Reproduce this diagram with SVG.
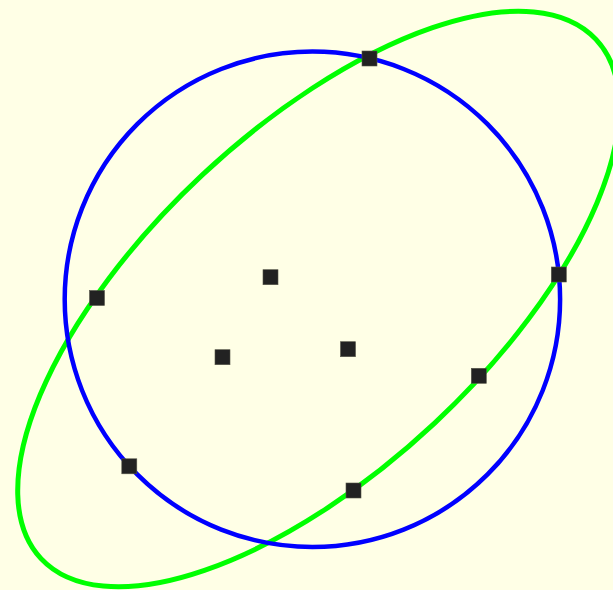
<svg xmlns="http://www.w3.org/2000/svg" width="613" height="590" viewBox="0 0 613 590">
<style>
.pt{fill:#222222;stroke:#555548;stroke-width:0.6}
.curve{fill:none}
</style>
<rect x="0" y="0" width="613" height="590" fill="#ffffe6"/>
<g id="connectors">
<ellipse id="ellipse" class="curve" cx="318.5" cy="299" rx="380" ry="170" transform="rotate(-43.1 318.5 299)" stroke="#00ff00" stroke-width="5"/>
<circle id="circle" class="curve" cx="312.4" cy="299.3" r="247.7" stroke="#0000ff" stroke-width="4.5"/>
</g>
<g id="p1"><rect class="pt" x="362" y="51" width="15" height="15"/></g>
<g id="p2"><rect class="pt" x="89.5" y="290.5" width="15" height="15"/></g>
<g id="p3"><rect class="pt" x="551.3" y="267" width="15" height="15"/></g>
<g id="p4"><rect class="pt" x="471.3" y="368.3" width="15" height="15"/></g>
<g id="p5"><rect class="pt" x="346" y="483" width="15" height="15"/></g>
<g id="p6"><rect class="pt" x="121.8" y="458.8" width="15" height="15"/></g>
<g id="p7"><rect class="pt" x="263" y="269.7" width="15" height="15"/></g>
<g id="p8"><rect class="pt" x="215" y="349.7" width="15" height="15"/></g>
<g id="p9"><rect class="pt" x="340.5" y="341.7" width="15" height="15"/></g>
</svg>
